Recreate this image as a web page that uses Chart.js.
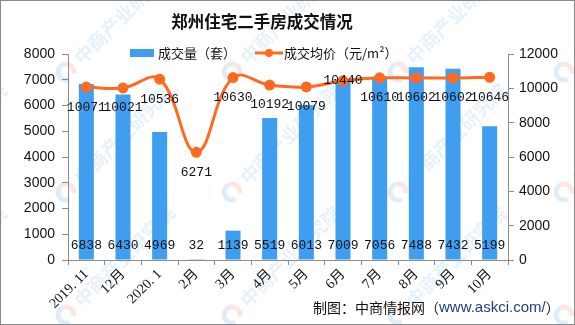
<!DOCTYPE html>
<html>
<head>
<meta charset="utf-8">
<script src="https://cdn.jsdelivr.net/npm/chart.js@4.4.1/dist/chart.umd.min.js"></script>
<style>
    html, body { margin: 0; padding: 0; background: #fff; }
    #wrap { width: 575px; height: 325px; }
</style>
</head>
<body>
<div id="wrap"><canvas id="chart" width="575" height="325"></canvas></div>
<script>
// Data
const months = ['2019. 11', '12月', '2020. 1', '2月', '3月', '4月', '5月', '6月', '7月', '8月', '9月', '10月'];
const volume = [6838, 6430, 4969, 32, 1139, 5519, 6013, 7009, 7056, 7488, 7432, 5199];
const avgPrice = [10071, 10021, 10536, 6271, 10630, 10192, 10079, 10440, 10610, 10602, 10602, 10646];
const volumeTicks = [0, 1000, 2000, 3000, 4000, 5000, 6000, 7000, 8000];
const priceTicks = [0, 2000, 4000, 6000, 8000, 10000, 12000];

const BLUE = '#409EF0';
const ORANGE = '#FF6A21';
const AXIS = '#8C8C8C';
const CJK = '"Noto Sans CJK SC", "Noto Sans", sans-serif';

// faint diagonal watermark + border + title + legend + source
const decorPlugin = {
    id: 'decor',
    beforeDraw(chart) {
        const ctx = chart.ctx;
        ctx.save();
        ctx.fillStyle = '#fff';
        ctx.fillRect(0, 0, chart.width, chart.height);
        const xs = [-102, 66, 232, 398, 564];
        const ys = [72, 192, 315];
        ys.forEach(y => xs.forEach(x => {
            ctx.save();
            ctx.translate(x, y);
            ctx.rotate(-Math.PI / 4);
            ctx.lineWidth = 5;
            ctx.strokeStyle = 'rgba(150,195,235,0.3)';
            ctx.beginPath();
            ctx.arc(0, 0, 8, Math.PI * 0.6, Math.PI * 1.6);
            ctx.stroke();
            ctx.strokeStyle = 'rgba(245,170,160,0.3)';
            ctx.beginPath();
            ctx.arc(0, 0, 8, Math.PI * 1.6, Math.PI * 2.3);
            ctx.stroke();
            ctx.fillStyle = 'rgba(160,200,235,0.25)';
            ctx.font = 'bold 19px ' + CJK;
            ctx.textBaseline = 'middle';
            ctx.fillText('中商产业研究院', 16, 0);
            ctx.restore();
        }));
        ctx.restore();
    },
    afterDraw(chart) {
        const ctx = chart.ctx;
        ctx.save();
        // border
        ctx.strokeStyle = '#8a8a8a';
        ctx.lineWidth = 1;
        ctx.strokeRect(0.5, 0.5, chart.width - 1, chart.height - 1);

        // title
        ctx.fillStyle = '#111';
        ctx.font = 'bold 16.5px ' + CJK;
        ctx.textAlign = 'center';
        ctx.textBaseline = 'middle';
        ctx.fillText('郑州住宅二手房成交情况', 262, 22);

        // legend
        ctx.textAlign = 'left';
        ctx.font = '13px ' + CJK;
        ctx.fillStyle = BLUE;
        ctx.fillRect(130, 49, 24, 8);
        ctx.fillStyle = '#111';
        ctx.fillText('成交量（套）', 158, 53);
        ctx.strokeStyle = ORANGE;
        ctx.lineWidth = 3;
        ctx.beginPath();
        ctx.moveTo(255, 53);
        ctx.lineTo(283, 53);
        ctx.stroke();
        ctx.fillStyle = ORANGE;
        ctx.beginPath();
        ctx.arc(269, 53, 4, 0, Math.PI * 2);
        ctx.fill();
        ctx.fillStyle = '#111';
        ctx.fillText('成交均价（元/m²）', 284, 53);

        // source
        ctx.font = '14px ' + CJK;
        const pre = '制图：中商情报网（';
        ctx.fillText(pre, 313, 308);
        let x = 313 + ctx.measureText(pre).width;
        ctx.font = '15px "Liberation Sans", sans-serif';
        ctx.fillStyle = '#1F3C88';
        ctx.fillText('www.askci.com/', x, 308);
        x += ctx.measureText('www.askci.com/').width;
        ctx.font = '14px ' + CJK;
        ctx.fillStyle = '#111';
        ctx.fillText('）', x, 308);
        ctx.restore();
    }
};

// value labels drawn from the dataset elements
const labelPlugin = {
    id: 'valueLabels',
    afterDatasetsDraw(chart) {
        const ctx = chart.ctx;
        ctx.save();
        ctx.font = '13px "Liberation Mono", monospace';
        ctx.fillStyle = '#111';
        ctx.textAlign = 'center';
        ctx.textBaseline = 'middle';
        const barMeta = chart.getDatasetMeta(1);
        const bottom = chart.scales.y.bottom;
        barMeta.data.forEach((bar, i) => {
            ctx.fillText(String(volume[i]), bar.x, bottom - 14);
        });
        const lineMeta = chart.getDatasetMeta(0);
        lineMeta.data.forEach((pt, i) => {
            const dy = i === 7 ? 0 : 20;
            ctx.fillText(String(avgPrice[i]), pt.x, pt.y + dy);
        });
        ctx.restore();
    }
};

const plainTick = value => String(value);

const ctx = document.getElementById('chart').getContext('2d');
new Chart(ctx, {
    type: 'bar',
    data: {
        labels: months,
        datasets: [{
            type: 'line',
            label: '成交均价（元/m²）',
            data: avgPrice,
            yAxisID: 'y1',
            borderColor: ORANGE,
            backgroundColor: ORANGE,
            borderWidth: 3,
            tension: 0.4,
            pointRadius: 4,
            pointBackgroundColor: ORANGE,
            pointBorderColor: ORANGE,
            order: 0
        }, {
            label: '成交量（套）',
            data: volume,
            yAxisID: 'y',
            backgroundColor: BLUE,
            barPercentage: 0.41,
            categoryPercentage: 1,
            order: 1
        }]
    },
    options: {
        responsive: false,
        animation: false,
        layout: { padding: { top: 54, left: 0, right: 0, bottom: 0 } },
        plugins: {
            legend: { display: false },
            title: { display: false },
            tooltip: { enabled: false }
        },
        scales: {
            x: {
                offset: true,
                afterFit: scale => { scale.height = 65; },
                grid: { offset: true, drawOnChartArea: false, tickLength: 5, color: AXIS },
                border: { color: AXIS },
                ticks: {
                    minRotation: 45,
                    maxRotation: 45,
                    padding: 1,
                    color: '#111',
                    font: { family: '"Liberation Serif", "Noto Sans CJK SC", serif', size: 14 }
                }
            },
            y: {
                position: 'left',
                min: 0,
                max: 8000,
                afterFit: scale => { scale.width = 68; },
                afterBuildTicks: scale => { scale.ticks = volumeTicks.map(v => ({ value: v })); },
                grid: { drawOnChartArea: false, tickLength: 6, color: AXIS },
                border: { color: AXIS },
                ticks: {
                    padding: 7,
                    color: '#111',
                    callback: plainTick,
                    font: { family: '"Liberation Sans", sans-serif', size: 14 }
                }
            },
            y1: {
                position: 'right',
                min: 0,
                max: 12000,
                afterFit: scale => { scale.width = 67; },
                afterBuildTicks: scale => { scale.ticks = priceTicks.map(v => ({ value: v })); },
                grid: { drawOnChartArea: false, tickLength: 6, color: AXIS },
                border: { color: AXIS },
                ticks: {
                    padding: 5,
                    color: '#111',
                    callback: plainTick,
                    font: { family: '"Liberation Sans", sans-serif', size: 14 }
                }
            }
        }
    },
    plugins: [decorPlugin, labelPlugin]
});
</script>
</body>
</html>
